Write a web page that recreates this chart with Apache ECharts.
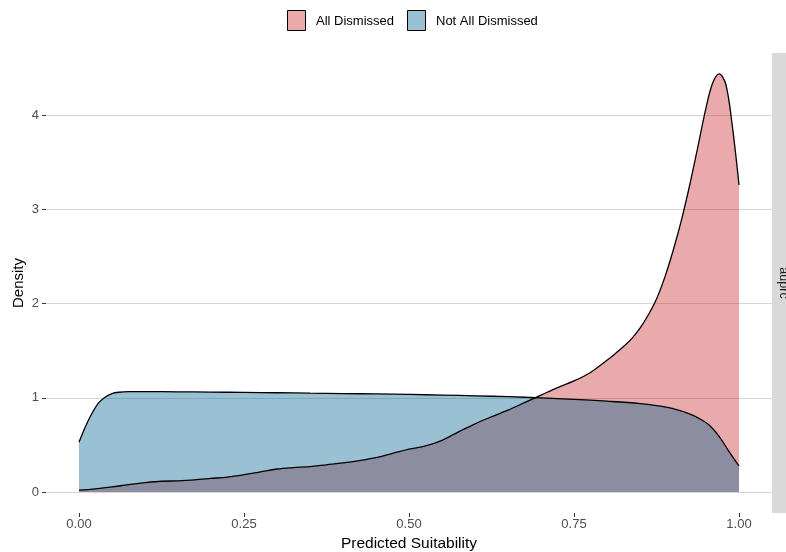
<!DOCTYPE html>
<html>
<head>
<meta charset="utf-8">
<script src="https://cdn.jsdelivr.net/npm/echarts@6/dist/echarts.min.js"></script>
<style>
  html, body { margin: 0; padding: 0; background: #ffffff; }
  #chart { width: 786px; height: 552px; }
</style>
</head>
<body>
<div id="chart"></div>
<script>
// Density estimates of predicted suitability, by dismissal outcome
const groups = ['All Dismissed', 'Not All Dismissed'];
const facetLabel = 'auprc';

const xDismissed = [0, 0.025, 0.05, 0.075, 0.1, 0.125, 0.15, 0.175, 0.2, 0.225, 0.25, 0.275, 0.3, 0.325, 0.35, 0.375, 0.4, 0.425, 0.45, 0.475, 0.5, 0.525, 0.55, 0.575, 0.6, 0.625, 0.65, 0.675, 0.7, 0.725, 0.75, 0.775, 0.8, 0.8125, 0.825, 0.8375, 0.85, 0.8625, 0.875, 0.8875, 0.9, 0.9125, 0.925, 0.9375, 0.95, 0.96, 0.97, 0.98, 0.99, 1.0];
const yDismissed = [0.02, 0.035, 0.055, 0.08, 0.10, 0.115, 0.12, 0.13, 0.145, 0.16, 0.185, 0.215, 0.245, 0.26, 0.27, 0.29, 0.31, 0.335, 0.365, 0.41, 0.455, 0.49, 0.55, 0.64, 0.725, 0.80, 0.87, 0.95, 1.03, 1.11, 1.18, 1.27, 1.40, 1.47, 1.545, 1.63, 1.74, 1.88, 2.05, 2.28, 2.56, 2.88, 3.25, 3.66, 4.08, 4.34, 4.44, 4.33, 3.88, 3.26];

const xNotDismissed = [0, 0.01, 0.02, 0.03, 0.04, 0.05, 0.06, 0.075, 0.1, 0.15, 0.2, 0.25, 0.3, 0.35, 0.4, 0.45, 0.5, 0.55, 0.6, 0.65, 0.7, 0.75, 0.8, 0.85, 0.875, 0.9, 0.925, 0.94, 0.955, 0.97, 0.985, 1.0];
const yNotDismissed = [0.53, 0.70, 0.84, 0.95, 1.01, 1.045, 1.06, 1.067, 1.067, 1.065, 1.062, 1.058, 1.055, 1.05, 1.046, 1.042, 1.037, 1.03, 1.022, 1.013, 1.0, 0.985, 0.965, 0.94, 0.918, 0.885, 0.83, 0.78, 0.71, 0.59, 0.43, 0.277];

const xTicks = [0, 0.25, 0.5, 0.75, 1];
const xTickLabels = ['0.00', '0.25', '0.50', '0.75', '1.00'];
const yTicks = [0, 1, 2, 3, 4];

const pair = (xs, ys) => xs.map((x, i) => [x, ys[i]]);

const FONT = '"Liberation Sans", Arial, Helvetica, sans-serif';
const fillRed = 'rgb(197, 42, 42)';
const fillBlue = 'rgb(2, 97, 145)';
const legendRed = 'rgb(232, 170, 170)';
const legendBlue = 'rgb(154, 192, 211)';

const chart = echarts.init(document.getElementById('chart'), null, { renderer: 'canvas' });

function densitySeries(name, data, color) {
  return {
    name: name,
    type: 'line',
    data: data,
    smooth: 0.35,
    showSymbol: false,
    symbol: 'none',
    silent: true,
    lineStyle: { color: '#000000', width: 1.3 },
    areaStyle: { color: color, opacity: 0.4, origin: 0 }
  };
}

chart.setOption({
  animation: false,
  backgroundColor: '#ffffff',
  grid: { left: 46, right: 14, top: 53, bottom: 39, containLabel: false, outerBoundsMode: 'none' },
  xAxis: {
    type: 'value',
    min: -0.05,
    max: 1.05,
    name: 'Predicted Suitability',
    nameLocation: 'middle',
    nameGap: 20,
    nameTextStyle: { color: '#000000', fontSize: 15.5, fontFamily: FONT },
    axisLine: { show: false, onZero: false },
    axisTick: { show: true, customValues: xTicks, length: 4, lineStyle: { color: '#333333', width: 1 } },
    axisLabel: {
      customValues: xTicks,
      margin: 5,
      color: '#4d4d4d',
      fontSize: 13,
      fontFamily: FONT,
      formatter: (v) => {
        const i = xTicks.findIndex((t) => Math.abs(t - v) < 1e-9);
        return i >= 0 ? xTickLabels[i] : '';
      }
    },
    splitLine: { show: false }
  },
  yAxis: {
    type: 'value',
    min: -0.222,
    max: 4.662,
    name: 'Density',
    nameLocation: 'middle',
    nameGap: 20,
    nameMoveOverlap: false,
    nameTextStyle: { color: '#000000', fontSize: 15, fontFamily: FONT },
    axisLine: { show: false, onZero: false },
    axisTick: { show: true, customValues: yTicks, length: 4, lineStyle: { color: '#333333', width: 1 } },
    axisLabel: { customValues: yTicks, margin: 7, color: '#4d4d4d', fontSize: 13, fontFamily: FONT },
    splitLine: { show: false }
  },
  series: [
    Object.assign(densitySeries(groups[0], pair(xDismissed, yDismissed), fillRed), {
      markLine: {
        silent: true,
        symbol: 'none',
        label: { show: false },
        lineStyle: { color: '#d6d6d6', width: 1, type: 'solid' },
        z: 0,
        data: yTicks.map((v) => ({ yAxis: v }))
      }
    }),
    densitySeries(groups[1], pair(xNotDismissed, yNotDismissed), fillBlue)
  ],
  graphic: [
    // facet strip on the right edge
    { type: 'rect', z: -1, shape: { x: 772, y: 53, width: 30, height: 460 }, style: { fill: '#d9d9d9' } },
    {
      type: 'text', x: 783, y: 283, rotation: -Math.PI / 2,
      style: { text: facetLabel, fill: '#1a1a1a', fontSize: 12.5, fontFamily: FONT, align: 'center', verticalAlign: 'middle' }
    },
    // legend
    { type: 'rect', shape: { x: 287.5, y: 10.5, width: 18, height: 20 }, style: { fill: legendRed, stroke: '#000000', lineWidth: 1 } },
    { type: 'text', x: 316, y: 21, style: { text: groups[0], fill: '#000000', fontSize: 13, fontFamily: FONT, verticalAlign: 'middle' } },
    { type: 'rect', shape: { x: 407.5, y: 10.5, width: 18, height: 20 }, style: { fill: legendBlue, stroke: '#000000', lineWidth: 1 } },
    { type: 'text', x: 436, y: 21, style: { text: groups[1], fill: '#000000', fontSize: 13, fontFamily: FONT, verticalAlign: 'middle' } }
  ]
});
</script>
</body>
</html>
